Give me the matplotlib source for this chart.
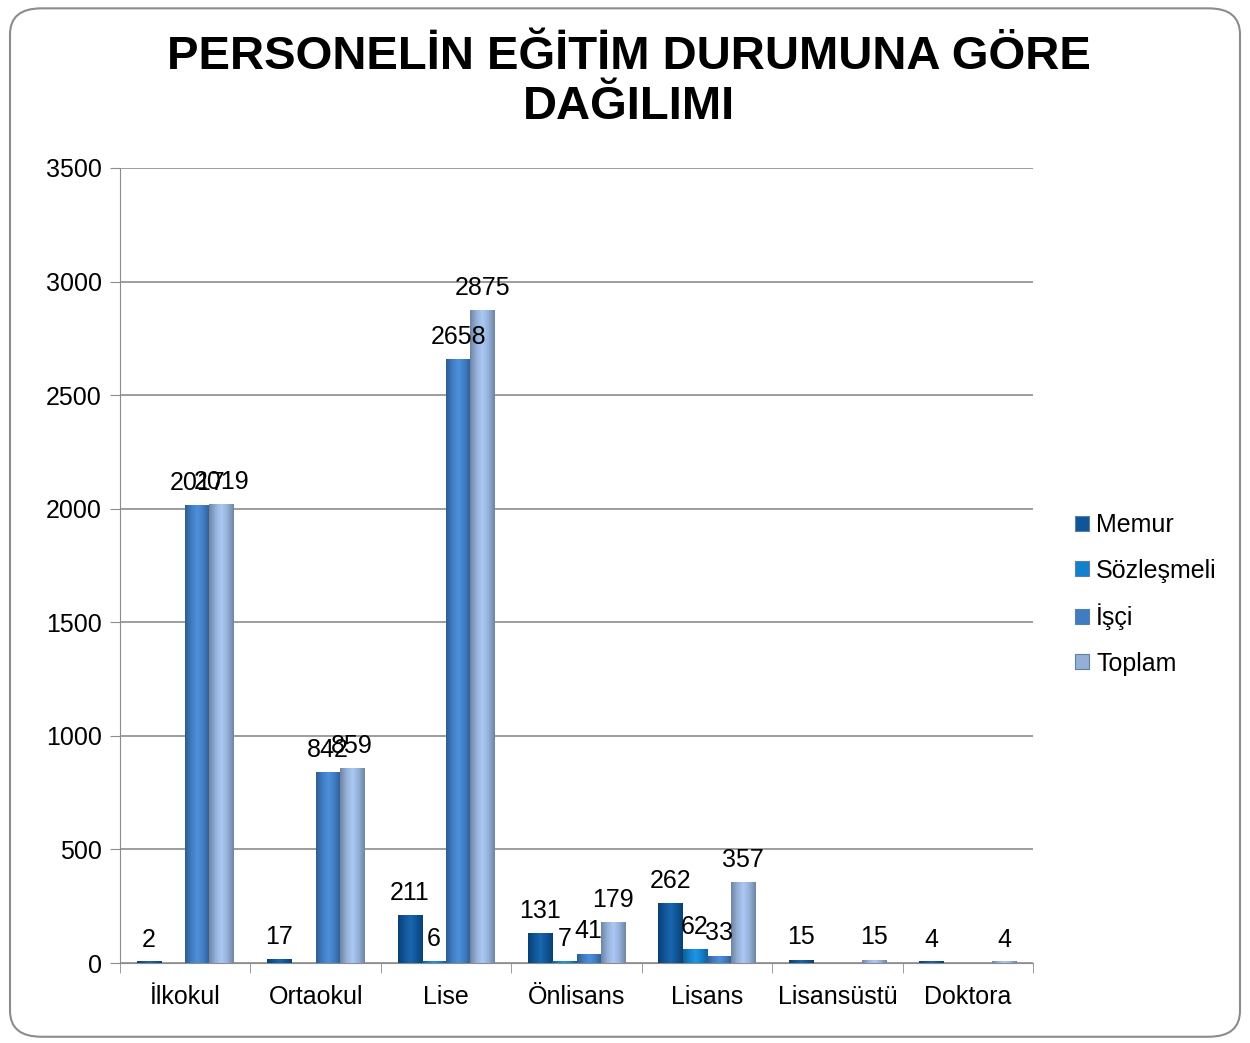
import numpy as np
import matplotlib
matplotlib.use("Agg")
import matplotlib.pyplot as plt
from matplotlib.patches import FancyBboxPatch, Patch
from matplotlib.colors import LinearSegmentedColormap, to_rgb

plt.rcParams['font.family'] = ['Liberation Sans', 'DejaVu Sans']

# data (blank cells in the source table are None)
categories = ['İlkokul', 'Ortaokul', 'Lise', 'Önlisans', 'Lisans', 'Lisansüstü', 'Doktora']
series = ['Memur', 'Sözleşmeli', 'İşçi', 'Toplam']
memur = [2, 17, 211, 131, 262, 15, 4]
sozlesmeli = [None, None, 6, 7, 62, None, None]
isci = [2017, 842, 2658, 41, 33, None, None]
toplam = [2019, 859, 2875, 179, 357, 15, 4]
colors = ['#0f5598', '#1281cc', '#3f7cc2', '#94b0d8']

fig = plt.figure(figsize=(12.5, 10.43), dpi=100)
# rounded chart border
fig.patches.append(FancyBboxPatch((0.008, 0.006), 0.984, 0.986, boxstyle="round,pad=0,rounding_size=0.025",
                                  transform=fig.transFigure, fill=False, ec='#8c8c8c', lw=1.5))
ax = fig.add_axes([0.096, 0.0767, 0.7304, 0.7623])

x = np.arange(len(categories))
w = 0.186


def shaded_bar(xc, h, color):
    # excel-like bar: darker edges, lighter middle
    r, g, b = to_rgb(color)
    dark = (r * 0.75, g * 0.75, b * 0.75)
    light = tuple(min(1, c * 1.08 + 0.04) for c in (r, g, b))
    cmap = LinearSegmentedColormap.from_list('b', [dark, color, light, color, dark])
    bar = ax.bar(xc, h, w, color=color, lw=0, zorder=3)[0]
    grad = np.linspace(0, 1, 64).reshape(1, -1)
    im = ax.imshow(grad, cmap=cmap, extent=[xc - w / 2, xc + w / 2, 0, h], aspect='auto', zorder=3.5)
    im.set_clip_path(bar)


for i, vals in enumerate([memur, sozlesmeli, isci, toplam]):
    for j, v in enumerate(vals):
        if v is None:
            continue
        xc = x[j] + (i - 1.5) * w
        shaded_bar(xc, max(v, 8), colors[i])
        ax.text(xc, v + 45, str(v), ha='center', va='bottom', fontsize=18, zorder=5)

ax.set_xlim(-0.5, len(categories) - 0.5)
ax.set_ylim(0, 3500)
ax.set_yticks(np.arange(0, 3501, 500))
ax.tick_params(axis='y', labelsize=18, length=7, color='#8c8c8c', pad=6)
ax.set_xticks(x)
ax.set_xticklabels(categories, fontsize=18)
ax.set_xticks(np.arange(-0.5, len(categories)), minor=True)
ax.tick_params(axis='x', which='major', length=0, pad=16)
ax.tick_params(axis='x', which='minor', length=7, color='#8c8c8c')
ax.grid(axis='y', color='#8c8c8c', lw=1.2, zorder=0)
for s in ['top', 'right']:
    ax.spines[s].set_visible(False)
ax.spines['left'].set_color('#8c8c8c')
ax.spines['bottom'].set_color('#8c8c8c')

fig.text(0.503, 0.966, 'PERSONELİN EĞİTİM DURUMUNA GÖRE\nDAĞILIMI', ha='center', va='top',
         fontsize=34, fontweight='bold', linespacing=1.15)

handles = [Patch(facecolor=c, edgecolor='#5a7fa8', lw=0.8) for c in colors]
fig.legend(handles, series, loc='center left', bbox_to_anchor=(0.842, 0.43), frameon=False, fontsize=18,
           handlelength=0.55, handleheight=0.55, handletextpad=0.3, labelspacing=0.85)

fig.savefig('out.png', dpi=100)
